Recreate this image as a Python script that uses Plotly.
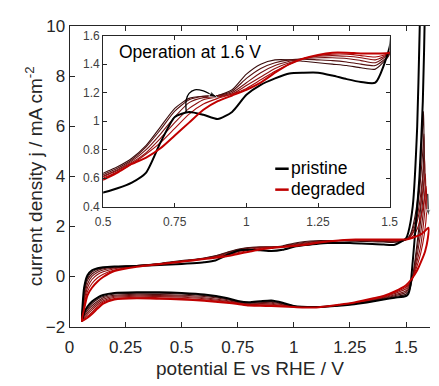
import plotly.graph_objects as go

# ---------------- data ----------------
names = ["pristine", "c1", "c2", "c3", "c4", "c5", "degraded"]
colors = ["#000000", "#3a0d0d", "#561010", "#721212", "#8c1010", "#a60a0a", "#c00000"]
widths = [2.0, 1.1, 1.1, 1.1, 1.1, 1.1, 2.0]

# anodic branch potentials (V)
E_up = [0.055, 0.065, 0.08, 0.1, 0.125, 0.15, 0.2, 0.3, 0.4, 0.5, 0.55, 0.6, 0.65, 0.7, 0.75,
        0.8, 0.85, 0.9, 0.95, 1.0, 1.05, 1.1, 1.15, 1.2, 1.25, 1.3, 1.35, 1.4, 1.45, 1.5]
j_up = [
    [-1.78, -0.45, 0.05, 0.25, 0.33, 0.37, 0.40, 0.42, 0.46, 0.50, 0.53, 0.57, 0.64, 0.85, 1.03,
     1.065, 1.045, 1.015, 1.065, 1.185, 1.255, 1.30, 1.335, 1.34, 1.34, 1.32, 1.295, 1.275, 1.27, 1.52],
    [-1.78, -0.6, -0.05, 0.18, 0.29, 0.34, 0.39, 0.44, 0.52, 0.635, 0.68, 0.74, 0.83, 0.96, 1.09,
     1.16, 1.175, 1.18, 1.22, 1.33, 1.40, 1.43, 1.43, 1.42, 1.41, 1.40, 1.39, 1.375, 1.365, 1.47],
    [-1.78, -0.75, -0.15, 0.10, 0.24, 0.31, 0.37, 0.44, 0.51, 0.625, 0.67, 0.73, 0.82, 0.94, 1.07,
     1.15, 1.175, 1.18, 1.21, 1.30, 1.37, 1.41, 1.43, 1.435, 1.43, 1.425, 1.415, 1.40, 1.39, 1.47],
    [-1.78, -0.9, -0.3, 0.0, 0.17, 0.26, 0.34, 0.43, 0.51, 0.615, 0.66, 0.72, 0.80, 0.91, 1.03,
     1.13, 1.165, 1.175, 1.20, 1.27, 1.34, 1.39, 1.42, 1.44, 1.445, 1.445, 1.44, 1.425, 1.41, 1.48],
    [-1.78, -1.0, -0.45, -0.12, 0.08, 0.19, 0.31, 0.42, 0.50, 0.61, 0.655, 0.71, 0.78, 0.88, 0.99,
     1.09, 1.15, 1.17, 1.19, 1.25, 1.31, 1.37, 1.41, 1.44, 1.455, 1.46, 1.455, 1.445, 1.43, 1.48],
    [-1.78, -1.15, -0.6, -0.28, -0.05, 0.09, 0.26, 0.41, 0.50, 0.60, 0.645, 0.70, 0.77, 0.85, 0.95,
     1.05, 1.12, 1.16, 1.19, 1.23, 1.29, 1.35, 1.40, 1.44, 1.46, 1.47, 1.47, 1.46, 1.45, 1.48],
    [-1.78, -1.3, -0.75, -0.45, -0.2, -0.02, 0.22, 0.39, 0.49, 0.59, 0.64, 0.70, 0.745, 0.81, 0.90,
     0.99, 1.08, 1.14, 1.18, 1.22, 1.27, 1.34, 1.40, 1.44, 1.465, 1.48, 1.48, 1.475, 1.475, 1.48],
]

# OER region: anodic tail, vertex, cathodic tail
oer_up_E = [[1.51, 1.53, 1.55, 1.56, 1.57], [1.52, 1.54, 1.56, 1.572], [1.52, 1.54, 1.56, 1.574],
            [1.52, 1.54, 1.56, 1.576], [1.52, 1.54, 1.56, 1.578], [1.53, 1.55, 1.57, 1.582],
            [1.53, 1.56, 1.58]]
oer_up_j = [[1.75, 2.8, 6.0, 9.5, 13.0], [1.7, 2.4, 3.8, 5.6], [1.65, 2.2, 3.4, 4.9],
            [1.6, 2.0, 2.9, 4.1], [1.6, 1.9, 2.6, 3.6], [1.6, 1.9, 2.5, 3.1],
            [1.55, 1.65, 1.78]]
vertex_E = [1.59, 1.578, 1.58, 1.583, 1.586, 1.59, 1.6]
vertex_j = [16.0, 6.6, 5.7, 4.7, 4.1, 3.6, 1.95]
oer_dn_E = [[1.585, 1.575, 1.56, 1.545, 1.53, 1.52, 1.51], [1.58, 1.572, 1.56, 1.545, 1.53, 1.515],
            [1.582, 1.574, 1.56, 1.545, 1.53, 1.515], [1.585, 1.576, 1.56, 1.545, 1.53],
            [1.588, 1.578, 1.565, 1.545, 1.53], [1.592, 1.582, 1.565, 1.545, 1.525],
            [1.597, 1.585, 1.57, 1.55, 1.525]]
oer_dn_j = [[11.0, 7.0, 4.0, 2.2, 0.6, -0.35, -0.7], [5.2, 3.6, 2.2, 1.0, 0.0, -0.55],
            [4.4, 3.0, 1.8, 0.8, 0.0, -0.45], [3.6, 2.5, 1.4, 0.6, -0.05],
            [3.1, 2.1, 1.2, 0.45, -0.05], [2.6, 1.7, 0.9, 0.3, -0.15],
            [1.5, 1.0, 0.65, 0.25, -0.1]]

# cathodic branch potentials (V)
E_dn = [1.5, 1.45, 1.4, 1.35, 1.3, 1.25, 1.2, 1.1, 1.0, 0.95, 0.9, 0.85, 0.8, 0.75, 0.7,
        0.6, 0.5, 0.4, 0.3, 0.2, 0.15, 0.125, 0.1, 0.08, 0.065, 0.055]
j_dn = [
    [-0.78, -0.85, -0.92, -1.0, -1.07, -1.13, -1.17, -1.22, -1.18, -1.05, -0.96, -0.99, -1.03, -0.98, -0.86,
     -0.72, -0.66, -0.63, -0.63, -0.66, -0.74, -0.84, -1.0, -1.2, -1.45, -1.78],
    [-0.71, -0.81, -0.90, -0.98, -1.06, -1.12, -1.16, -1.22, -1.19, -1.08, -1.0, -1.02, -1.05, -1.0, -0.89,
     -0.76, -0.70, -0.67, -0.67, -0.70, -0.80, -0.91, -1.08, -1.28, -1.50, -1.78],
    [-0.64, -0.77, -0.87, -0.96, -1.04, -1.11, -1.16, -1.23, -1.19, -1.10, -1.03, -1.05, -1.07, -1.02, -0.92,
     -0.80, -0.75, -0.72, -0.71, -0.75, -0.85, -0.99, -1.17, -1.35, -1.54, -1.78],
    [-0.57, -0.73, -0.85, -0.94, -1.03, -1.10, -1.15, -1.23, -1.20, -1.13, -1.07, -1.08, -1.10, -1.04, -0.96,
     -0.85, -0.79, -0.76, -0.75, -0.79, -0.91, -1.06, -1.25, -1.43, -1.59, -1.78],
    [-0.49, -0.68, -0.83, -0.92, -1.01, -1.09, -1.14, -1.23, -1.21, -1.15, -1.11, -1.11, -1.12, -1.06, -0.99,
     -0.89, -0.83, -0.80, -0.79, -0.83, -0.97, -1.13, -1.33, -1.50, -1.64, -1.78],
    [-0.42, -0.64, -0.80, -0.90, -1.0, -1.08, -1.14, -1.24, -1.21, -1.18, -1.14, -1.14, -1.14, -1.08, -1.02,
     -0.93, -0.88, -0.85, -0.83, -0.88, -1.02, -1.21, -1.42, -1.58, -1.68, -1.78],
    [-0.35, -0.6, -0.78, -0.88, -0.98, -1.07, -1.13, -1.24, -1.22, -1.2, -1.18, -1.17, -1.16, -1.1, -1.05,
     -0.97, -0.92, -0.89, -0.87, -0.92, -1.08, -1.28, -1.5, -1.65, -1.73, -1.78],
]

# inset arrow path (pristine -> degraded), ending at the arrow tip
arrow_E = [0.79, 0.79, 0.80, 0.82, 0.85, 0.878, 0.9]
arrow_j = [1.065, 1.15, 1.195, 1.22, 1.212, 1.186, 1.165]
# main-plot arrow (decreasing OER current)
oer_arrow_E = [1.597, 1.6]
oer_arrow_j = [3.3, 2.4]

x_ticks = [0, 0.25, 0.5, 0.75, 1, 1.25, 1.5]
x_tick_text = ["0", "0.25", "0.5", "0.75", "1", "1.25", "1.5"]
y_ticks = [-2, 0, 2, 4, 6, 8, 10]
ix_ticks = [0.5, 0.75, 1, 1.25, 1.5]
ix_tick_text = ["0.5", "0.75", "1", "1.25", "1.5"]
iy_ticks = [0.4, 0.6, 0.8, 1.0, 1.2, 1.4, 1.6]
iy_tick_text = ["0.4", "0.6", "0.8", "1", "1.2", "1.4", "1.6"]

# ---------------- figure ----------------
W, H = 439, 386
FONT = "Arial, Liberation Sans, sans-serif"
AX = "#262626"

fig = go.Figure()
order = [1, 2, 3, 4, 5, 0, 6]
for i in order:
    xs = E_up + oer_up_E[i] + [vertex_E[i]] + oer_dn_E[i] + E_dn
    ys = j_up[i] + oer_up_j[i] + [vertex_j[i]] + oer_dn_j[i] + j_dn[i]
    line = dict(color=colors[i], width=widths[i], shape="spline", smoothing=0.6)
    fig.add_trace(go.Scatter(x=xs, y=ys, mode="lines", line=line, name=names[i],
                             showlegend=False, xaxis="x", yaxis="y", hoverinfo="skip"))
for i in order:
    xs = E_up + oer_up_E[i]
    ys = j_up[i] + oer_up_j[i]
    line = dict(color=colors[i], width=widths[i], shape="spline", smoothing=0.6)
    fig.add_trace(go.Scatter(x=xs, y=ys, mode="lines", line=line, name=names[i],
                             showlegend=False, xaxis="x2", yaxis="y2", hoverinfo="skip"))

n_a = len(arrow_E)
fig.add_trace(go.Scatter(x=arrow_E, y=arrow_j, mode="lines+markers",
                         line=dict(color="black", width=1.3, shape="spline"),
                         marker=dict(symbol="arrow", angleref="previous", color="black",
                                     size=[0] * (n_a - 1) + [9]),
                         showlegend=False, xaxis="x2", yaxis="y2", hoverinfo="skip"))
fig.add_trace(go.Scatter(x=oer_arrow_E, y=oer_arrow_j, mode="lines+markers",
                         line=dict(color="black", width=1),
                         marker=dict(symbol="arrow", angleref="previous", color="black",
                                     size=[0, 7]),
                         showlegend=False, xaxis="x", yaxis="y", hoverinfo="skip", cliponaxis=False))

def px_x(p):
    return p / W

def px_y(p):
    return 1 - p / H

common = dict(showgrid=False, zeroline=False, showline=True, linecolor=AX, linewidth=1,
              ticks="inside", tickcolor=AX)
fig.update_layout(
    width=W, height=H, margin=dict(l=0, r=0, t=0, b=0),
    paper_bgcolor="white", plot_bgcolor="white",
    font=dict(family=FONT, color=AX),
    xaxis=dict(domain=[px_x(64), 1.0], range=[0, 1.607], tickvals=x_ticks, ticktext=x_tick_text,
               ticklen=5, mirror="allticks", tickfont=dict(size=17, color=AX), anchor="y",
               ticklabelstandoff=5, **common),
    yaxis=dict(domain=[px_y(334), px_y(18)], range=[-2, 10], tickvals=y_ticks,
               ticklen=5, mirror=False, tickfont=dict(size=17, color=AX), anchor="x", **common),
    xaxis2=dict(domain=[px_x(99), px_x(397)], range=[0.5, 1.5], tickvals=ix_ticks, ticktext=ix_tick_text,
                ticklen=4, mirror="allticks", tickfont=dict(size=12, color="#404040"), anchor="y2",
                ticklabelstandoff=4, **common),
    yaxis2=dict(domain=[px_y(208), px_y(28)], range=[0.4, 1.6], tickvals=iy_ticks, ticktext=iy_tick_text,
                ticklen=4, mirror="allticks", tickfont=dict(size=12, color="#404040"), anchor="x2", **common),
    showlegend=False,
)

ann = [
    dict(text="potential E vs RHE / V", x=px_x(252), y=px_y(378), xref="paper", yref="paper",
         showarrow=False, font=dict(size=19, color=AX), xanchor="center", yanchor="middle"),
    dict(text="current density j / mA cm<sup>-2</sup>", x=px_x(27), y=px_y(176), xref="paper", yref="paper",
         showarrow=False, textangle=-90, font=dict(size=19, color=AX), xanchor="center", yanchor="middle"),
    dict(text="Operation at 1.6 V", x=px_x(113), y=px_y(45), xref="paper", yref="paper",
         showarrow=False, font=dict(size=17.5, color="black"), xanchor="left", yanchor="middle"),
    dict(text="pristine", x=px_x(292), y=px_y(167), xref="paper", yref="paper",
         showarrow=False, font=dict(size=17.5, color="black"), xanchor="left", yanchor="middle"),
    dict(text="degraded", x=px_x(292), y=px_y(189), xref="paper", yref="paper",
         showarrow=False, font=dict(size=17.5, color="black"), xanchor="left", yanchor="middle"),
]
fig.update_layout(annotations=ann)

fig.update_layout(shapes=[
    dict(type="line", xref="paper", yref="paper", x0=px_x(278), x1=px_x(292),
         y0=px_y(168), y1=px_y(168), line=dict(color=colors[0], width=2.5)),
    dict(type="line", xref="paper", yref="paper", x0=px_x(278), x1=px_x(292),
         y0=px_y(190), y1=px_y(190), line=dict(color=colors[6], width=2.5)),
])

fig.write_html("out.html")
